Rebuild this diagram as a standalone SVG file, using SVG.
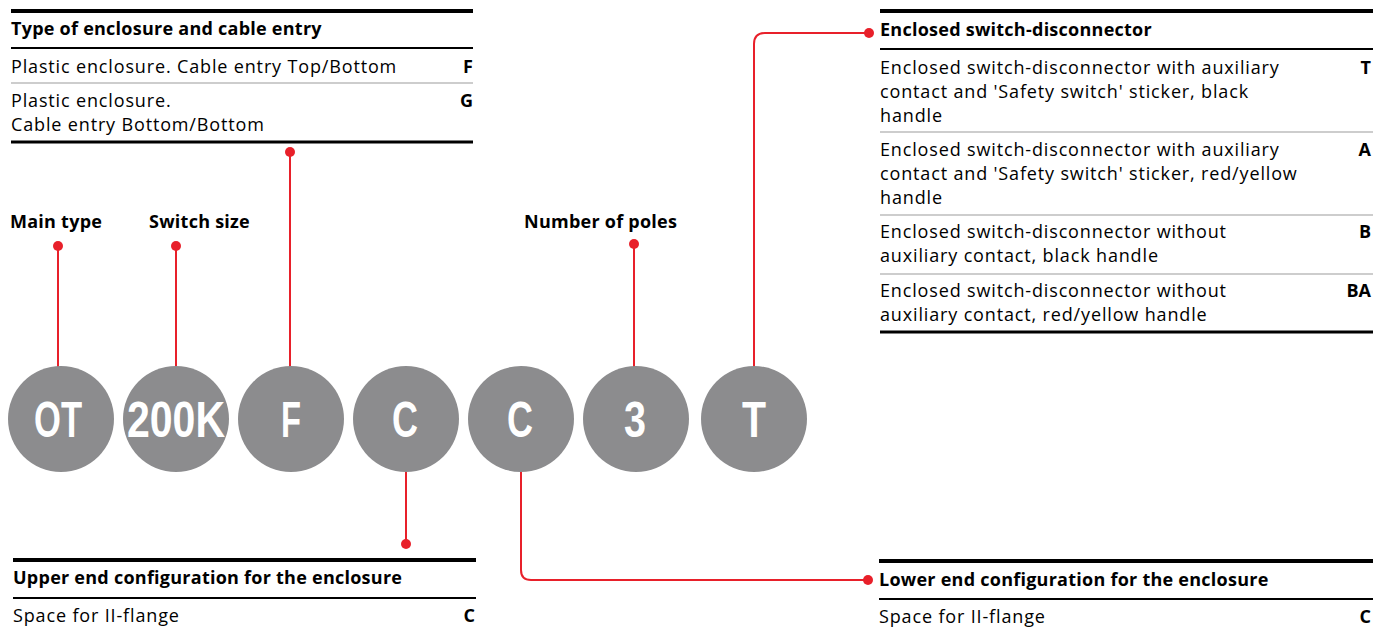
<svg xmlns="http://www.w3.org/2000/svg" width="1373" height="630" viewBox="0 0 1373 630">
<style>
.t{font-family:"Open Sans","Noto Sans",sans-serif;font-size:18px;fill:#000;letter-spacing:0.85px}
.b{font-weight:bold;letter-spacing:0.25px}
.r{text-anchor:end;font-weight:bold;letter-spacing:0}
.thick{stroke:#000;stroke-width:4}
.hd{stroke:#000;stroke-width:2}
.sep{stroke:#bdbdbd;stroke-width:1.5}
.con{fill:none;stroke:#e8202a;stroke-width:2}
.dot{fill:#e8202a}
.circ{fill:#8c8c8e}
.ct{font-family:"Liberation Sans",Arial,sans-serif;font-weight:bold;font-size:50px;fill:#fff;text-anchor:middle}
</style>
<g id="table-enclosure">
<line class="thick" x1="11" y1="11" x2="473" y2="11"/>
<text class="t b" x="11" y="35">Type of enclosure and cable entry</text>
<line class="hd" x1="11" y1="48" x2="473" y2="48"/>
<text class="t" x="11" y="73">Plastic enclosure. Cable entry Top/Bottom</text>
<text class="t r" x="473" y="73">F</text>
<line class="sep" x1="11" y1="83" x2="473" y2="83"/>
<text class="t" x="11" y="107">Plastic enclosure.</text>
<text class="t" x="11" y="131">Cable entry Bottom/Bottom</text>
<text class="t r" x="473" y="107">G</text>
<line class="thick" x1="11" y1="142" x2="473" y2="142" style="stroke-width:3"/>
</g>
<g id="table-switch">
<line class="thick" x1="880" y1="11" x2="1373" y2="11"/>
<text class="t b" x="880" y="36">Enclosed switch-disconnector</text>
<line class="hd" x1="880" y1="49" x2="1373" y2="49"/>
<text class="t" x="880" y="74">Enclosed switch-disconnector with auxiliary</text>
<text class="t" x="880" y="98">contact and 'Safety switch' sticker, black</text>
<text class="t" x="880" y="122">handle</text>
<text class="t r" x="1371" y="74">T</text>
<line class="sep" x1="880" y1="132" x2="1373" y2="132"/>
<text class="t" x="880" y="156">Enclosed switch-disconnector with auxiliary</text>
<text class="t" x="880" y="180">contact and 'Safety switch' sticker, red/yellow</text>
<text class="t" x="880" y="204">handle</text>
<text class="t r" x="1371" y="156">A</text>
<line class="sep" x1="880" y1="215" x2="1373" y2="215"/>
<text class="t" x="880" y="238">Enclosed switch-disconnector without</text>
<text class="t" x="880" y="262">auxiliary contact, black handle</text>
<text class="t r" x="1371" y="238">B</text>
<line class="sep" x1="880" y1="274" x2="1373" y2="274"/>
<text class="t" x="880" y="297">Enclosed switch-disconnector without</text>
<text class="t" x="880" y="321">auxiliary contact, red/yellow handle</text>
<text class="t r" x="1371" y="297">BA</text>
<line class="thick" x1="880" y1="332" x2="1373" y2="332" style="stroke-width:3"/>
</g>
<g id="table-upper">
<line class="thick" x1="13" y1="560" x2="476" y2="560"/>
<text class="t b" x="13" y="584">Upper end configuration for the enclosure</text>
<line class="hd" x1="13" y1="598" x2="476" y2="598"/>
<text class="t" x="13" y="622">Space for II-flange</text>
<text class="t r" x="475" y="622">C</text>
</g>
<g id="table-lower">
<line class="thick" x1="879" y1="561" x2="1373" y2="561"/>
<text class="t b" x="879" y="586">Lower end configuration for the enclosure</text>
<line class="hd" x1="879" y1="599" x2="1373" y2="599"/>
<text class="t" x="879" y="623">Space for II-flange</text>
<text class="t r" x="1371" y="623">C</text>
</g>
<g id="label-main-type"><text class="t b" x="10" y="228">Main type</text></g>
<g id="label-switch-size"><text class="t b" x="149" y="228">Switch size</text></g>
<g id="label-poles"><text class="t b" x="524" y="228">Number of poles</text></g>
<g id="connectors">
<line class="con" x1="58" y1="246" x2="58" y2="367"/><circle class="dot" cx="58" cy="246" r="5"/>
<line class="con" x1="176" y1="246" x2="176" y2="367"/><circle class="dot" cx="176" cy="246" r="5"/>
<line class="con" x1="290" y1="152" x2="290" y2="367"/><circle class="dot" cx="290" cy="152" r="5"/>
<line class="con" x1="406" y1="471" x2="406" y2="544"/><circle class="dot" cx="406" cy="544" r="5"/>
<path class="con" d="M521 471 V570 Q521 580 531 580 H868"/><circle class="dot" cx="868" cy="580" r="5"/>
<line class="con" x1="634" y1="244" x2="634" y2="367"/><circle class="dot" cx="634" cy="244" r="5"/>
<path class="con" d="M754 367 V44 Q754 33 765 33 H869"/><circle class="dot" cx="869" cy="33" r="5"/>
</g>
<g id="node-OT"><circle class="circ" cx="61" cy="419" r="53"/><text class="ct" x="58" y="437" textLength="48" lengthAdjust="spacingAndGlyphs">OT</text></g>
<g id="node-200K"><circle class="circ" cx="176" cy="419" r="53"/><text class="ct" x="176" y="437" textLength="98" lengthAdjust="spacingAndGlyphs">200K</text></g>
<g id="node-F"><circle class="circ" cx="291" cy="419" r="53"/><text class="ct" x="291" y="437" textLength="20" lengthAdjust="spacingAndGlyphs">F</text></g>
<g id="node-C1"><circle class="circ" cx="406" cy="419" r="53"/><text class="ct" x="405" y="437" textLength="26" lengthAdjust="spacingAndGlyphs">C</text></g>
<g id="node-C2"><circle class="circ" cx="521" cy="419" r="53"/><text class="ct" x="520" y="437" textLength="26" lengthAdjust="spacingAndGlyphs">C</text></g>
<g id="node-3"><circle class="circ" cx="636" cy="419" r="53"/><text class="ct" x="635" y="437" textLength="22" lengthAdjust="spacingAndGlyphs">3</text></g>
<g id="node-T"><circle class="circ" cx="754" cy="419" r="53"/><text class="ct" x="754" y="437" textLength="24" lengthAdjust="spacingAndGlyphs">T</text></g>
</svg>
